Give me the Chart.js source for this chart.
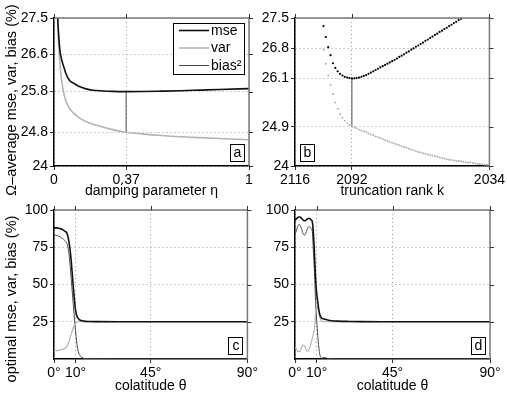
<!DOCTYPE html>
<html>
<head>
<meta charset="utf-8">
<script src="https://cdn.jsdelivr.net/npm/chart.js@4.4.0/dist/chart.umd.min.js"></script>
<style>
  html, body { margin: 0; padding: 0; background: #fff; }
  #fig { position: relative; width: 507px; height: 398px; overflow: hidden; }
  .panel { position: absolute; }
</style>
</head>
<body>
<div id="fig">
  <div class="panel" style="left:0;top:0;width:260px;height:200px"><canvas id="chartA"></canvas></div>
  <div class="panel" style="left:260px;top:0;width:247px;height:200px"><canvas id="chartB"></canvas></div>
  <div class="panel" style="left:0;top:198px;width:260px;height:200px"><canvas id="chartC"></canvas></div>
  <div class="panel" style="left:260px;top:198px;width:247px;height:200px"><canvas id="chartD"></canvas></div>
</div>
<script>
// panel a: damping parameter eta
const etaVals = [0.015, 0.02, 0.03, 0.04, 0.05, 0.06, 0.08, 0.1, 0.13, 0.16, 0.2, 0.25, 0.3, 0.37, 0.45, 0.55, 0.65, 0.75, 0.85, 1.0];
const mseA = [27.9, 27.4, 26.75, 26.5, 26.35, 26.2, 26.02, 25.96, 25.88, 25.83, 25.79, 25.775, 25.765, 25.76, 25.762, 25.77, 25.78, 25.795, 25.81, 25.83];
const varA = [28.2, 27.3, 26.45, 26.0, 25.72, 25.55, 25.36, 25.25, 25.14, 25.06, 24.99, 24.92, 24.86, 24.80, 24.76, 24.72, 24.69, 24.67, 24.65, 24.62];
const etaOpt = [0.37, 0.37];
const biasA = [24.80, 25.76];
const etaTicks = [0, 0.37, 1];
const etaTickLabels = ['0', '0.37', '1'];
const yTicksA = [24, 24.8, 25.76, 26.64, 27.5];
const yTickLabelsA = ['24', '24.8', '25.8', '26.6', '27.5'];

// panel b: truncation rank k
const kMse = [2104, 2103, 2102, 2101, 2100, 2099, 2098, 2097, 2096, 2095, 2094, 2093, 2092, 2091, 2090,
  2089, 2088, 2087, 2086, 2085, 2084, 2083, 2082, 2081, 2080, 2079, 2078, 2077, 2076, 2075, 2074, 2073,
  2072, 2071, 2070, 2069, 2068, 2067, 2066, 2065, 2064, 2063, 2062, 2061, 2060, 2059, 2058, 2057, 2056,
  2055, 2054, 2053, 2052, 2051, 2050, 2049, 2048, 2047, 2046];
const mseB = [27.31, 27.05, 26.81, 26.62, 26.43, 26.32, 26.24, 26.18, 26.14, 26.11, 26.09, 26.08, 26.07, 26.07, 26.08,
  26.09, 26.11, 26.13, 26.15, 26.18, 26.21, 26.24, 26.27, 26.30, 26.33, 26.36, 26.39, 26.42, 26.45, 26.48, 26.51, 26.54,
  26.58, 26.61, 26.64, 26.68, 26.71, 26.75, 26.78, 26.82, 26.85, 26.89, 26.92, 26.96, 26.99, 27.03, 27.06, 27.10, 27.13,
  27.17, 27.20, 27.24, 27.27, 27.31, 27.34, 27.38, 27.41, 27.45, 27.48];
const kVar = [2104, 2103, 2102, 2101, 2100, 2099, 2098, 2097, 2096, 2095, 2094, 2093, 2092, 2091, 2090,
  2089, 2088, 2087, 2086, 2085, 2084, 2083, 2082, 2081, 2080, 2079, 2078, 2077, 2076, 2075, 2074, 2073,
  2072, 2071, 2070, 2069, 2068, 2067, 2066, 2065, 2064, 2063, 2062, 2061, 2060, 2059, 2058, 2057, 2056,
  2055, 2054, 2053, 2052, 2051, 2050, 2049, 2048, 2047, 2046, 2045, 2044, 2043, 2042, 2041, 2040, 2039,
  2038, 2037, 2036, 2035, 2034];
const varB = [26.75, 26.42, 26.14, 25.92, 25.70, 25.50, 25.35, 25.23, 25.14, 25.07, 25.01, 24.97, 24.93, 24.91, 24.89,
  24.86, 24.84, 24.82, 24.80, 24.77, 24.75, 24.73, 24.70, 24.68, 24.66, 24.63, 24.61, 24.59, 24.57, 24.55, 24.53, 24.51,
  24.49, 24.47, 24.45, 24.43, 24.41, 24.39, 24.37, 24.35, 24.33, 24.32, 24.30, 24.29, 24.27, 24.26, 24.24, 24.23, 24.22,
  24.20, 24.19, 24.18, 24.16, 24.15, 24.14, 24.13, 24.12, 24.12, 24.11, 24.10, 24.09, 24.08, 24.08, 24.07, 24.06, 24.05,
  24.05, 24.04, 24.03, 24.03, 24.02];
const kOpt = [2092, 2092];
const biasB = [24.93, 26.07];
const kTicks = [2116, 2092, 2034];
const kTickLabels = ['2116', '2092', '2034'];
const yTicksB = [24, 24.93, 26.07, 26.79, 27.5];
const yTickLabelsB = ['24', '24.9', '26.1', '26.8', '27.5'];

// panel c: optimal values, damped
const thetaC = [0, 1, 2, 3, 4, 5, 6, 6.5, 7, 7.5, 8, 8.5, 9, 9.5, 10, 10.5, 11, 11.5, 12, 13, 14, 16, 20, 30, 45, 60, 90];
const mseC = [88, 88, 87.8, 87.5, 86.8, 85.8, 84.5, 82, 78.5, 73, 66, 57, 48, 40, 33, 29.5, 27.8, 26.8, 26.2, 25.7, 25.4, 25.2, 25.1, 25, 25, 25, 25];
const varC = [5.5, 5.6, 5.8, 6.1, 6.5, 7.1, 8.5, 10, 12, 14.5, 17, 19, 21, 22.8, 24, 24.6, 25, 25.2, 25.2, 25.1, 25, 25, 25, 25, 25, 25, 25];
const biasC = [83.2, 83, 82.5, 81.8, 80.8, 79.5, 77.5, 75, 70, 63, 54, 45, 36, 27, 19, 12, 7, 4, 2.5, 1, 0.4, 0.2, 0.1, 0, 0, 0, 0];

// panel d: optimal values, truncated
const thetaD = [0, 0.5, 1, 1.5, 2, 2.5, 3, 3.5, 4, 4.5, 5, 5.5, 6, 6.5, 7, 7.5, 8, 8.5, 9, 9.5, 10, 10.5, 11, 11.5, 12, 12.5, 13, 14, 15, 17, 20, 25, 30, 40, 50, 70, 90];
const mseD = [93, 93.8, 94.6, 95.1, 95.3, 95.1, 94.5, 93.6, 93, 92.8, 93.1, 93.7, 94.2, 94.4, 94, 93.3, 92, 84, 70, 54, 44, 38.5, 33, 29.5, 28, 27.3, 27, 26.6, 26.2, 25.7, 25.4, 25.2, 25.1, 25, 25, 25, 25];
const varD = [8.3, 7, 5.6, 4.9, 4.9, 5.8, 7.5, 9, 9.4, 8.5, 6.8, 5.5, 5.3, 6.5, 8.5, 11, 14, 17, 21, 30, 35.5, 34.5, 31, 28, 26, 25.3, 25, 25, 25, 25, 25, 25, 25, 25, 25, 25, 25];
const biasD = [83.5, 85.5, 88, 89.8, 90.4, 89.5, 87.5, 85, 83.5, 83.2, 84.5, 86.5, 88.3, 88.9, 88.5, 87.5, 85.5, 72, 58, 38.5, 26, 16, 8, 2.7, 1, 0.6, 0.8, 0.9, 0.4, 0.1, 0, 0, 0, 0, 0, 0, 0];

const thetaTicks = [0, 10, 45, 90];
const thetaTickLabels = ['0°', '10°', '45°', '90°'];
const yTicksCD = [25, 50, 75, 100];
const yTickLabelsCD = ['25', '50', '75', '100'];

const seriesNames = ['mse', 'var', 'bias²'];

// colours
const MSE_COLOR = '#111111';
const VAR_COLOR = '#b4b4b4';
const BIAS_COLOR = '#4a4a4a';
const GRID_COLOR = '#9a9a9a';
const FONT = "'Liberation Sans', Arial, sans-serif";

Chart.defaults.font.family = FONT;
Chart.defaults.font.size = 14;
Chart.defaults.color = '#000';
Chart.defaults.animation = false;

function pts(xs, ys) {
  return xs.map((x, i) => ({ x: x, y: ys[i] }));
}

// frame on top/right, outward ticks, letter box, legend and y title
const framePlugin = {
  id: 'frame',
  afterDraw(chart, args, opts) {
    const { ctx, chartArea: a } = chart;
    const xs = chart.scales.x, ys = chart.scales.y;
    ctx.save();
    ctx.strokeStyle = '#7a7a7a';
    ctx.lineWidth = 1.5;
    ctx.beginPath();
    ctx.moveTo(a.left, a.top);
    ctx.lineTo(a.right, a.top);
    ctx.lineTo(a.right, a.bottom);
    ctx.stroke();

    ctx.strokeStyle = '#333';
    ctx.lineWidth = 1;
    ctx.beginPath();
    ys.ticks.forEach(t => {
      const py = Math.round(ys.getPixelForValue(t.value)) + 0.5;
      ctx.moveTo(a.right, py);
      ctx.lineTo(a.right + 4, py);
    });
    xs.ticks.forEach(t => {
      const px = Math.round(xs.getPixelForValue(t.value)) + 0.5;
      ctx.moveTo(px, a.top);
      ctx.lineTo(px, a.top - 4);
    });
    ctx.stroke();

    // panel letter
    const bw = 14, bh = 17;
    const bx = opts.corner === 'bl' ? a.left + 5 : a.right - 5 - bw;
    const by = a.bottom - 5 - bh;
    ctx.fillStyle = '#fff';
    ctx.fillRect(bx, by, bw, bh);
    ctx.strokeStyle = '#000';
    ctx.strokeRect(Math.round(bx) + 0.5, Math.round(by) + 0.5, bw, bh);
    ctx.fillStyle = '#000';
    ctx.font = '14px ' + FONT;
    ctx.textAlign = 'center';
    ctx.textBaseline = 'middle';
    ctx.fillText(opts.letter, bx + bw / 2 + 0.5, by + bh / 2 + 1);

    if (opts.legend) {
      const lw = 71, lh = 51;
      const lx = a.right - 5 - lw, ly = a.top + 5;
      ctx.fillStyle = '#fff';
      ctx.fillRect(lx, ly, lw, lh);
      ctx.strokeStyle = '#000';
      ctx.strokeRect(Math.round(lx) + 0.5, Math.round(ly) + 0.5, lw, lh);
      ctx.textAlign = 'left';
      chart.data.datasets.forEach((ds, i) => {
        const ry = ly + 7.5 + i * 17.5;
        ctx.strokeStyle = ds.borderColor;
        ctx.lineWidth = ds.borderWidth;
        ctx.beginPath();
        ctx.moveTo(lx + 6, ry);
        ctx.lineTo(lx + 36, ry);
        ctx.stroke();
        ctx.fillStyle = '#000';
        ctx.fillText(ds.label, lx + 38, ry + 0.5);
      });
    }

    if (opts.yTitle) {
      ctx.translate(opts.yTitleX, opts.yTitleY);
      ctx.rotate(-Math.PI / 2);
      ctx.font = opts.yTitleSize + 'px ' + FONT;
      ctx.fillStyle = '#000';
      ctx.textAlign = 'center';
      ctx.textBaseline = 'middle';
      ctx.fillText(opts.yTitle, 0, 0);
    }
    ctx.restore();
  }
};

function axisX(min, max, reverse, ticks, labels, title, height, titlePad) {
  return {
    type: 'linear', min: min, max: max, reverse: reverse,
    afterBuildTicks: s => { s.ticks = ticks.map(v => ({ value: v })); },
    afterFit: s => { s.height = height; },
    ticks: { autoSkip: false, maxRotation: 0, padding: 2, callback: (v, i) => labels[i] },
    grid: { color: GRID_COLOR, lineWidth: 1, tickLength: 4, tickColor: '#333' },
    border: { color: '#000', width: 1.5, dash: [1, 3] },
    title: { display: true, text: title, padding: { top: 0, bottom: titlePad } }
  };
}

function axisY(min, max, ticks, labels, width) {
  return {
    type: 'linear', min: min, max: max,
    afterBuildTicks: s => { s.ticks = ticks.map(v => ({ value: v })); },
    afterFit: s => { s.width = width; },
    ticks: { autoSkip: false, padding: 2, callback: (v, i) => labels[i] },
    grid: { color: GRID_COLOR, lineWidth: 1, tickLength: 4, tickColor: '#333' },
    border: { color: '#000', width: 1.5, dash: [1, 3] }
  };
}

function lineSet(label, xs, ys, color, width) {
  return {
    label: label, data: pts(xs, ys), borderColor: color, backgroundColor: color,
    borderWidth: width, pointRadius: 0, cubicInterpolationMode: 'monotone', fill: false
  };
}

function dotSet(label, xs, ys, color, r) {
  return {
    label: label, data: pts(xs, ys), borderColor: color, backgroundColor: color,
    borderWidth: 0, showLine: false, pointRadius: r, pointBorderWidth: 0
  };
}

function baseOptions(padding, scales, frame) {
  return {
    responsive: true, maintainAspectRatio: false,
    layout: { padding: padding },
    plugins: { legend: { display: false }, tooltip: { enabled: false }, frame: frame },
    scales: scales
  };
}

new Chart(document.getElementById('chartA'), {
  type: 'line',
  data: { datasets: [
    lineSet(seriesNames[0], etaVals, mseA, MSE_COLOR, 1.6),
    lineSet(seriesNames[1], etaVals, varA, VAR_COLOR, 1.6),
    lineSet(seriesNames[2], etaOpt, biasA, BIAS_COLOR, 1)
  ] },
  options: baseOptions({ top: 18, right: 11, left: 0, bottom: 0 }, {
    x: axisX(0, 1, false, etaTicks, etaTickLabels, 'damping parameter η', 34, 0),
    y: axisY(24, 27.5, yTicksA, yTickLabelsA, 54)
  }, { letter: 'a', corner: 'br', legend: true,
       yTitle: 'Ω–average mse, var, bias (%)', yTitleX: 12, yTitleY: 100, yTitleSize: 14.5 }),
  plugins: [framePlugin]
});

new Chart(document.getElementById('chartB'), {
  type: 'line',
  data: { datasets: [
    dotSet(seriesNames[0], kMse, mseB, '#000', 1.1),
    dotSet(seriesNames[1], kVar, varB, '#b0b0b0', 1),
    lineSet(seriesNames[2], kOpt, biasB, BIAS_COLOR, 1)
  ] },
  options: baseOptions({ top: 18, right: 17, left: 0, bottom: 0 }, {
    x: axisX(2034, 2116, true, kTicks, kTickLabels, 'truncation rank k', 34, 0),
    y: axisY(24, 27.5, yTicksB, yTickLabelsB, 35)
  }, { letter: 'b', corner: 'bl', legend: false }),
  plugins: [framePlugin]
});

new Chart(document.getElementById('chartC'), {
  type: 'line',
  data: { datasets: [
    lineSet(seriesNames[0], thetaC, mseC, MSE_COLOR, 1.6),
    lineSet(seriesNames[1], thetaC, varC, VAR_COLOR, 1.2),
    lineSet(seriesNames[2], thetaC, biasC, BIAS_COLOR, 1)
  ] },
  options: baseOptions({ top: 12, right: 11, left: 0, bottom: 0 }, {
    x: axisX(0, 90, false, thetaTicks, thetaTickLabels, 'colatitude θ', 39, 3),
    y: axisY(0, 100, yTicksCD, yTickLabelsCD, 54)
  }, { letter: 'c', corner: 'br', legend: false,
       yTitle: 'optimal mse, var, bias (%)', yTitleX: 12, yTitleY: 101, yTitleSize: 14.5 }),
  plugins: [framePlugin]
});

new Chart(document.getElementById('chartD'), {
  type: 'line',
  data: { datasets: [
    lineSet(seriesNames[0], thetaD, mseD, MSE_COLOR, 1.6),
    lineSet(seriesNames[1], thetaD, varD, VAR_COLOR, 1.2),
    lineSet(seriesNames[2], thetaD, biasD, BIAS_COLOR, 1)
  ] },
  options: baseOptions({ top: 12, right: 17, left: 0, bottom: 0 }, {
    x: axisX(0, 90, false, thetaTicks, thetaTickLabels, 'colatitude θ', 39, 3),
    y: axisY(0, 100, yTicksCD, yTickLabelsCD, 35)
  }, { letter: 'd', corner: 'br', legend: false }),
  plugins: [framePlugin]
});
</script>
</body>
</html>
